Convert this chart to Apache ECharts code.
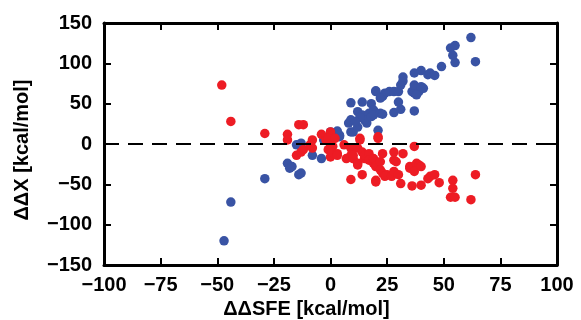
<!DOCTYPE html>
<html>
<head>
<meta charset="utf-8">
<script src="https://cdn.jsdelivr.net/npm/echarts@6/dist/echarts.min.js"></script>
<style>html,body{margin:0;padding:0;background:#fff;}#c{width:581px;height:320px;}</style>
</head>
<body>
<div id="c"></div>
<script>
var xTicks = [-100, -75, -50, -25, 0, 25, 50, 75, 100];
var yTicks = [-150, -100, -50, 0, 50, 100, 150];
var xName = 'ΔΔSFE [kcal/mol]';
var yName = 'ΔΔX [kcal/mol]';

var bluePoints = [
  [-47, -120], [-44, -72], [-29, -43], [-19, -24], [-18, -30], [-14, -38], [-13, -36], [-17, -28],
  [-15, -1], [-13, -3], [-8, -14], [-4, -18], [-13, 1], [-3, 5], [4, 9], [0, 15], [3, 16], [4, 11],
  [9, 15], [10, 15], [8, 26], [9, 30], [12, 21], [16, 26], [12, 40], [14, 36], [17, 38], [15, 30],
  [13, 33], [11, 28], [18, 34], [9, 51], [14, 52], [18, 50], [20, 65], [19, 42], [19, 36], [22, 38],
  [23, 37], [21, 17], [28, 39], [31, 43], [37, 41], [30, 52], [23, 59], [24, 63], [26, 65], [28, 65],
  [20, 66], [22, 57], [30, 65], [36, 65], [39, 65], [37, 63], [38, 61], [31, 73], [37, 73], [40, 71],
  [41, 69], [32, 78], [32, 83], [37, 88], [40, 91], [43, 86], [44, 88], [46, 85], [49, 96], [55, 101],
  [54, 110], [53, 119], [55, 122], [62, 132], [64, 102]
];

var redPoints = [
  [-48, 73], [-44, 28], [-29, 13], [-19, 12], [-19, 5], [-14, 24], [-12, 24], [-15, -14], [-13, -10],
  [-12, -7], [-8, 5], [-8, -5], [-9, -1], [-4, 12], [-2, 5], [0, 15], [-1, 7], [0, -1], [-1, -7],
  [0, -16], [1, -3], [0.5, -10], [3, -12], [3, -14], [2, 7], [6, -1], [7, -18], [9, -5], [9, -14],
  [12, -5], [13, 5], [13, 7], [14, -10], [10, -18], [10, -14], [12, -26], [12, -24], [15, -18],
  [15, -14], [17, -12], [17, -20], [19, -24], [19, -18], [20, -28], [21, 7], [21, 9], [23, -12],
  [22, -22], [22, -32], [23, -36], [25, -38], [24, -40], [27, -40], [28, -10], [28, -20], [29, -22],
  [28, -34], [30, -38], [31, -49], [32, -12], [37, -3], [35, -28], [35, -30], [38, -24], [39, -26],
  [37, -34], [40, -28], [36, -52], [40, -51], [43, -43], [44, -40], [46, -38], [48, -48], [54, -45],
  [54, -55], [53, -66], [55, -66], [62, -69], [64, -38], [9, -44], [14, -38], [20, -45], [20, -47]
];

var FONT = '"Liberation Sans", Arial, sans-serif';
function fmt(v) { return String(v).replace('-', '\u2212'); }

var chart = echarts.init(document.getElementById('c'), null, {renderer: 'canvas'});
var axisLineStyle = {color: '#000', width: 3};
var tickStyle = {color: '#000', width: 2};
var labelStyle = {color: '#000', fontSize: 20, fontWeight: 'bold', fontFamily: FONT, formatter: fmt};

chart.setOption({
  animation: false,
  backgroundColor: '#fff',
  grid: {left: 104, right: 24, top: 23, bottom: 55, containLabel: false, outerBoundsMode: 'none'},
  xAxis: [{
    type: 'value', min: xTicks[0], max: xTicks[xTicks.length - 1], interval: 25, position: 'bottom',
    axisLine: {show: true, onZero: false, lineStyle: axisLineStyle},
    axisTick: {show: true, inside: true, length: 7, lineStyle: tickStyle},
    axisLabel: Object.assign({margin: 10}, labelStyle),
    splitLine: {show: false},
    name: xName, nameLocation: 'middle', nameGap: 34,
    nameTextStyle: {color: '#000', fontSize: 20, fontWeight: 'bold', fontFamily: FONT, padding: [0, 48, 0, 0]}
  }, {
    type: 'value', min: xTicks[0], max: xTicks[xTicks.length - 1], interval: 25, position: 'top',
    axisLine: {show: true, onZero: false, lineStyle: axisLineStyle},
    axisTick: {show: true, inside: true, length: 7, lineStyle: tickStyle},
    axisLabel: {show: false}, splitLine: {show: false}
  }],
  yAxis: [{
    type: 'value', min: yTicks[0], max: yTicks[yTicks.length - 1], interval: 50, position: 'left',
    axisLine: {show: true, onZero: false, lineStyle: axisLineStyle},
    axisTick: {show: true, inside: true, length: 7, lineStyle: tickStyle},
    axisLabel: Object.assign({margin: 12}, labelStyle),
    splitLine: {show: false},
    name: yName, nameLocation: 'middle', nameGap: 72, nameRotate: 90,
    nameTextStyle: {color: '#000', fontSize: 20, fontWeight: 'bold', fontFamily: FONT, padding: [0, 12, 0, 0]}
  }, {
    type: 'value', min: yTicks[0], max: yTicks[yTicks.length - 1], interval: 50, position: 'right',
    axisLine: {show: true, onZero: false, lineStyle: axisLineStyle},
    axisTick: {show: true, inside: true, length: 7, lineStyle: tickStyle},
    axisLabel: {show: false}, splitLine: {show: false}
  }],
  series: [{
    type: 'scatter', name: 'blue', data: bluePoints, symbol: 'circle', symbolSize: 9.5,
    itemStyle: {color: '#3953a4', opacity: 1},
    markLine: {
      silent: true, symbol: ['none', 'none'], label: {show: false},
      lineStyle: {color: '#000', width: 2, type: [15, 9]},
      data: [{yAxis: 0}]
    }
  }, {
    type: 'scatter', name: 'red', data: redPoints, symbol: 'circle', symbolSize: 9.5,
    itemStyle: {color: '#ed1c24', opacity: 1}
  }]
});
</script>
</body>
</html>
